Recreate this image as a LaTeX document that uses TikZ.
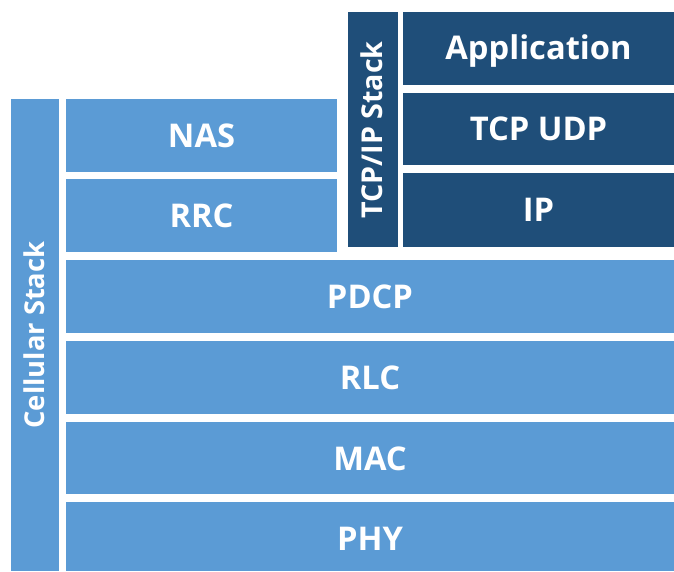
\documentclass[tikz,border=0pt]{standalone}
\usepackage{fontspec}
\setsansfont{Open Sans}
\definecolor{cell}{HTML}{5B9BD5}
\definecolor{tcpip}{HTML}{1F4E79}
\tikzset{
  lay/.style={text=white,text height=17.5pt,text depth=0pt,
    font=\sffamily\bfseries\fontsize{24.5}{28}\selectfont},
  side/.style={lay,rotate=90,text height=14.7pt,font=\sffamily\bfseries\fontsize{20.5}{24}\selectfont}
}
\begin{document}
\begin{tikzpicture}[x=0.75pt,y=-0.75pt]
	\useasboundingbox (0,0) rectangle (674,571);
	% cellular stack
	\fill[cell] (11,99) rectangle (59,571);
	\node[side] (cellular) at (35,335) {Cellular Stack};
	\fill[cell] (66,99) rectangle (337,172);
	\node[lay] (nas) at (201.5,136) {NAS};
	\fill[cell] (66,179) rectangle (337,252);
	\node[lay] (rrc) at (201.5,216) {RRC};
	\fill[cell] (66,260) rectangle (674,333);
	\node[lay] (pdcp) at (370,297) {PDCP};
	\fill[cell] (66,341) rectangle (674,414);
	\node[lay] (rlc) at (370,378) {RLC};
	\fill[cell] (66,422) rectangle (674,494);
	\node[lay] (mac) at (370,458.5) {MAC};
	\fill[cell] (66,502) rectangle (674,571);
	\node[lay] (phy) at (370,538.5) {PHY};
	% tcp/ip stack
	\fill[tcpip] (348,12) rectangle (398,247);
	\node[side,text height=15.4pt,font=\sffamily\bfseries\fontsize{21.5}{24}\selectfont] (tcpipstack) at (372,130) {TCP/IP Stack};
	\fill[tcpip] (403,12) rectangle (674,85);
	\node[lay] (app) at (538.5,48) {Application};
	\fill[tcpip] (403,93) rectangle (674,165);
	\node[lay] (tcpudp) at (538.5,129) {TCP UDP};
	\fill[tcpip] (403,173) rectangle (674,247);
	\node[lay] (ip) at (538.5,210) {IP};
\end{tikzpicture}
\end{document}
